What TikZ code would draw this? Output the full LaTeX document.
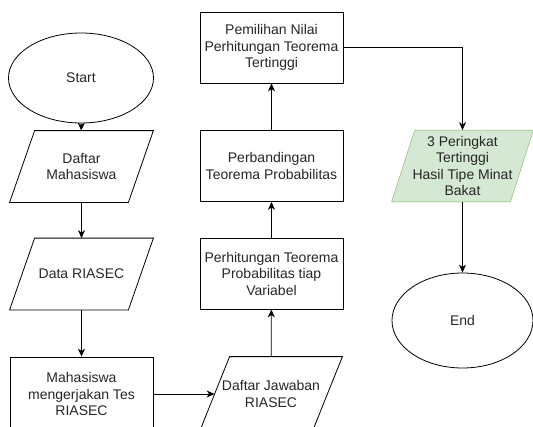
\documentclass[tikz,border=0pt]{standalone}
\usepackage{fontspec}
\setmainfont{Liberation Sans}
\usepackage{tikz}
\usetikzlibrary{shapes,calc,backgrounds,arrows.meta,positioning}
\definecolor{hasilfill}{HTML}{D5E8D4}
\definecolor{hasildraw}{HTML}{82B366}
\tikzstyle{terminal}=[draw,ellipse,inner sep=0pt]
\tikzstyle{process}=[draw,rectangle,minimum width=143pt,minimum height=71pt,inner sep=0pt,align=center]
\tikzstyle{io}=[rectangle,minimum width=118pt,minimum height=71pt,inner sep=0pt,align=center]
% parallelogram round an io node: #2 node, #3 half slant
\newcommand{\ioshape}[3][draw]{\path[#1] ($(#2.south west)+(-#3,0)$) -- ($(#2.north west)+(#3,0)$) -- ($(#2.north east)+(#3,0)$) -- ($(#2.south east)+(-#3,0)$) -- cycle;}

\begin{document}
\begin{tikzpicture}[x=1pt, y=-1pt, line width=0.8pt, >={Stealth[length=8pt,width=7pt,inset=2.5pt]},
    every node/.style={font=\fontsize{14}{16.5}\selectfont, text=black!85}]
    \useasboundingbox (0,0) rectangle (533,426);
    \clip (0,0) rectangle (533,426);
    % Left column: input
    \node[terminal, minimum width=145pt, minimum height=90pt] (start) at (81,78) {Start};
    \node[io] (mhs) at (81.5,166.5) {Daftar\\Mahasiswa};
    \node[io] (data) at (81.5,274) {Data RIASEC};
    \node[process, minimum height=74pt] (tes) at (81.5,394) {Mahasiswa\\mengerjakan Tes\\RIASEC};
    % Middle column: calculation
    \node[io, minimum width=112pt, minimum height=74pt] (jawab) at (271,394) {Daftar Jawaban\\RIASEC};
    \node[process] (hitung) at (271.5,273.5) {Perhitungan Teorema\\Probabilitas tiap\\Variabel};
    \node[process] (banding) at (271.5,166) {Perbandingan\\Teorema Probabilitas};
    \node[process] (pilih) at (271.5,47.5) {Pemilihan Nilai\\Perhitungan Teorema\\Tertinggi};
    % Right column: output
    \node[io] (hasil) at (462.5,166) {3 Peringkat\\Tertinggi\\Hasil Tipe Minat\\Bakat};
    \node[terminal, minimum width=141pt, minimum height=95pt] (end) at (462.5,320.5) {End};

    \ioshape{mhs}{12.5}
    \ioshape{data}{12.5}
    \ioshape{jawab}{15}
    \begin{scope}[on background layer]
      \ioshape[draw=hasildraw, fill=hasilfill]{hasil}{11.5}
    \end{scope}

     \path[->] (start) edge (mhs);
     \path[->] (mhs) edge (data);
     \path[->] (data) edge (tes);
     \path[->] (tes) edge (jawab);
     \path[->] (jawab) edge (hitung);
     \path[->] (hitung) edge (banding);
     \path[->] (banding) edge (pilih);
     \draw[->] (pilih.east) -| (hasil.north);
     \path[->] (hasil) edge (end);

  \end{tikzpicture}
\end{document}
